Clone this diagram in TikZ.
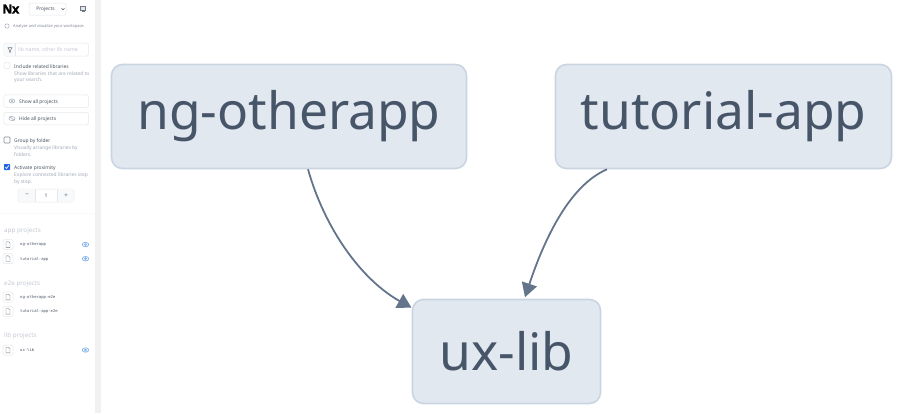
\documentclass[tikz,border=0pt]{standalone}
\usepackage{fontspec}
\setmainfont{Noto Sans}
\setmonofont{DejaVu Sans Mono}
\newfontfamily\logofont[FakeBold=2.5]{Liberation Sans}
\usetikzlibrary{arrows.meta,calc}
\definecolor{nodefill}{HTML}{E2E8F0}
\definecolor{nodeline}{HTML}{CBD5E1}
\definecolor{nodetext}{HTML}{475569}
\definecolor{edgecol}{HTML}{64748B}
\definecolor{sidetext}{HTML}{4B5563}
\definecolor{desctext}{HTML}{A3ABB8}
\definecolor{headtext}{HTML}{C4C9D2}
\definecolor{softline}{HTML}{E5E7EB}
\definecolor{scrollcol}{HTML}{F1F1F1}
\definecolor{stepfill}{HTML}{F7F9FB}
\definecolor{eyeblue}{HTML}{7FB0EA}
\definecolor{checkblue}{HTML}{2563EB}
\tikzset{
  x=1pt,y=-1pt,
  graphnode/.style={draw=nodeline,fill=nodefill,line width=1.6pt,rounded corners=11pt,text=nodetext,inner sep=0pt,font=\fontsize{51.5}{52}\selectfont},
  edge/.style={draw=edgecol,line width=1.8pt,-{Triangle[length=14pt,width=15.5pt]}},
  sidebox/.style={draw=softline,fill=white,line width=.5pt,rounded corners=1.5pt,inner sep=0pt},
  label/.style={anchor=west,inner sep=0pt,text=sidetext,font=\fontsize{4.9}{5}\selectfont},
  desc/.style={anchor=west,inner sep=0pt,text=desctext,font=\fontsize{4.9}{5}\selectfont},
  head/.style={anchor=west,inner sep=0pt,text=headtext,font=\fontsize{6.3}{7}\selectfont},
  proj/.style={anchor=west,inner sep=0pt,text=sidetext,font=\ttfamily\fontsize{3.9}{5}\selectfont},
  icon/.style={draw=desctext,line width=.5pt},
}
\newcommand{\projrow}[3]{%
  \node[sidebox,minimum width=10pt,minimum height=10pt] at (8,#1) {};
  \draw[icon,draw=sidetext!80,line width=.4pt] (6,#1-2.8) -- (8.6,#1-2.8) -- (10,#1-1.4) -- (10,#1+2.8) -- (6,#1+2.8) -- cycle;
  \node[proj] at (20,#1+.3) {#2};
  \ifnum#3=1
    \draw[draw=eyeblue,line width=.7pt] (85.5,#1) ellipse (3.2 and 2.2);
    \draw[draw=eyeblue,line width=.7pt] (85.5,#1) circle (1);
  \fi
}
\begin{document}
\begin{tikzpicture}
\useasboundingbox (0,0) rectangle (900,413);
\fill[white] (0,0) rectangle (900,413);
% sidebar
\fill[scrollcol] (95,0) rectangle (101,413);
\node[anchor=center,inner sep=0pt,font=\logofont\bfseries\fontsize{13}{13}\selectfont,text=black] (logo) at (11,9) {Nx};
\node[sidebox,minimum width=37pt,minimum height=12pt] (select) at (47.5,9) {};
\node[inner sep=0pt,text=sidetext,font=\fontsize{4.9}{5}\selectfont] (selecttext) at (45.5,9.5) {Projects};
\draw[sidetext,line width=.5pt] (61.5,8.3) -- (63,9.8) -- (64.5,8.3);
\draw[icon,draw=sidetext!80,fill=softline] (80.5,6) rectangle (85.5,10);
\draw[icon,draw=sidetext!80] (81.5,11.5) -- (84.5,11.5);
\draw[icon] (7,26) circle (2.2);
\node[desc,font=\fontsize{4}{5}\selectfont,text=sidetext!70] (tagline) at (13,26.5) {Analyse and visualize your workspace.};
% search
\node[sidebox,minimum width=84.5pt,minimum height=13pt] (search) at (46.2,49.5) {};
\fill[stepfill] (4.5,43.5) rectangle (15,55.5);
\draw[softline,line width=.5pt] (15,43) -- (15,56);
\draw[icon,draw=sidetext!80] (8,47.5) -- (12,47.5) -- (10.7,50) -- (10.7,52) -- (9.3,52) -- (9.3,50) -- cycle;
\node[desc,font=\fontsize{5.2}{6}\selectfont,text=headtext] (placeholder) at (18,50.3) {lib name, other lib name};
% include
\node[sidebox,minimum width=6pt,minimum height=6pt] (inc) at (7,65.5) {};
\node[label] (inct) at (14,66.5) {Include related libraries};
\node[desc] (incd1) at (14,73.5) {Show libraries that are related to};
\node[desc] (incd2) at (14,80.5) {your search.};
% buttons
\node[sidebox,minimum width=84.5pt,minimum height=12.5pt] (showb) at (46.2,101) {};
\draw[icon] (12,101) ellipse (3 and 2);
\draw[icon] (12,101) circle (.9);
\node[label] (show) at (19,102) {Show all projects};
\node[sidebox,minimum width=84.5pt,minimum height=12.5pt] (hideb) at (46.2,118.5) {};
\draw[icon] (12,118.5) ellipse (3 and 2);
\draw[icon] (9.5,116) -- (14.5,121);
\node[label] (hide) at (19,119.5) {Hide all projects};
% group
\node[draw=sidetext!70,fill=white,line width=.6pt,rounded corners=.7pt,minimum width=6pt,minimum height=6pt,inner sep=0pt] (grp) at (7,140) {};
\node[label] (grpt) at (14,141) {Group by folder};
\node[desc] (grpd1) at (14,148) {Visually arrange libraries by};
\node[desc] (grpd2) at (14,155) {folders.};
% proximity
\node[fill=checkblue,rounded corners=.7pt,minimum width=6pt,minimum height=6pt,inner sep=0pt] (prox) at (7,167) {};
\draw[white,line width=.7pt] (5.3,167.2) -- (6.6,168.5) -- (8.8,165.4);
\node[label] (proxt) at (14,168) {Activate proximity};
\node[desc] (proxd1) at (14,175) {Explore connected libraries step};
\node[desc] (proxd2) at (14,182) {by step.};
% stepper
\node[sidebox,minimum width=56pt,minimum height=13pt] (stepper) at (46,195.5) {};
\fill[stepfill] (18.5,189.3) rectangle (35,201.7);
\fill[stepfill] (57,189.3) rectangle (73.5,201.7);
\draw[softline,line width=.4pt] (35,189) -- (35,202) (57,189) -- (57,202);
\node[inner sep=0pt,text=sidetext,font=\fontsize{6}{6}\selectfont] (minus) at (27,195.5) {−};
\node[inner sep=0pt,text=sidetext,font=\fontsize{5}{5}\selectfont] (one) at (46,195.8) {1};
\node[inner sep=0pt,text=sidetext,font=\fontsize{6}{6}\selectfont] (plus) at (66,195.5) {+};
% projects
\draw[stepfill,line width=.5pt] (0,213) -- (95,213);
\node[head] (apph) at (4,231) {app projects};
\projrow{244.5}{ng-otherapp}{1}
\projrow{258.7}{tutorial-app}{1}
\node[head] (e2eh) at (4,283.5) {e2e projects};
\projrow{297}{ng-otherapp-e2e}{0}
\projrow{311.3}{tutorial-app-e2e}{0}
\node[head] (libh) at (4,336) {lib projects};
\projrow{350}{ux-lib}{1}
% graph
\node[graphnode,minimum width=355pt,minimum height=104pt] (a) at (289,116.5) {ng-otherapp};
\node[graphnode,minimum width=336pt,minimum height=104pt] (b) at (723.5,116.5) {tutorial-app};
\node[graphnode,minimum width=188pt,minimum height=104pt] (c) at (506.5,351.5) {ux-lib};
\coordinate (a1) at ([xshift=19pt]a.south);
\coordinate (b1) at ([xshift=-116.5pt]b.south);
\coordinate (c1) at ([xshift=-95pt,yshift=-9pt]c.north);
\coordinate (c2) at ([xshift=18.5pt,yshift=1.5pt]c.north);
\draw[edge] (a1) .. controls ($(a1)+(17,60)$) and ($(c1)+(-50,-28)$) .. (c1);
\draw[edge] (b1) .. controls ($(b1)+(-37,16)$) and ($(c2)+(20,-60)$) .. (c2);
\end{tikzpicture}
\end{document}
